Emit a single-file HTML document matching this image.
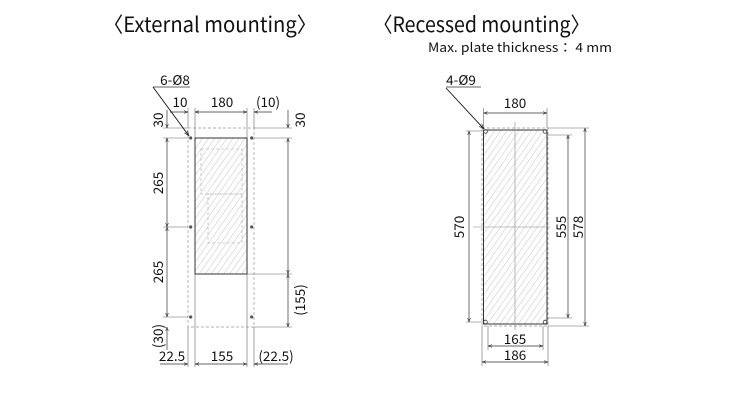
<!DOCTYPE html>
<html><head><meta charset="utf-8"><style>
html,body{margin:0;padding:0;background:#fff;}
svg{display:block;font-family:"Noto Sans CJK JP","Liberation Sans",sans-serif;}
</style></head><body>
<svg width="740" height="400" viewBox="0 0 740 400" xmlns="http://www.w3.org/2000/svg">
<defs>
<pattern id="h" width="5" height="5" patternUnits="userSpaceOnUse" patternTransform="rotate(35)">
<line x1="0" y1="0" x2="0" y2="5" stroke="#aaa" stroke-width="0.7"/>
</pattern>
<marker id="a" viewBox="0 0 6 6" refX="6" refY="3" markerWidth="6" markerHeight="6" orient="auto-start-reverse"><path d="M0,1 L6,3 L0,5" fill="none" stroke="#333" stroke-width="0.8"/></marker>
</defs>
<g fill="#111">
<text x="103" y="32" font-size="21" textLength="214" lengthAdjust="spacingAndGlyphs">〈External mounting〉</text>
<text x="373" y="32" font-size="21" textLength="217" lengthAdjust="spacingAndGlyphs">〈Recessed mounting〉</text>
<text x="428" y="52" font-size="12.5" textLength="184" lengthAdjust="spacingAndGlyphs">Max. plate thickness： 4 mm</text>
</g>

<!-- LEFT -->
<g stroke="#999" stroke-width="0.7" fill="none" stroke-dasharray="3,2">
<rect x="188" y="128" width="66" height="199"/>
</g>
<rect x="195" y="138" width="52" height="136" fill="url(#h)" stroke="#333" stroke-width="1"/>
<g stroke="#aaa" stroke-width="0.6" fill="none" stroke-dasharray="3,2">
<rect x="201" y="149" width="41" height="45"/>
<rect x="208" y="194" width="34" height="49"/>
</g>
<g fill="#555">
<circle cx="190.7" cy="138" r="1.6"/><circle cx="251.7" cy="138" r="1.6"/>
<circle cx="190.7" cy="227" r="1.6"/><circle cx="251.7" cy="227" r="1.6"/>
<circle cx="190.7" cy="317" r="1.6"/><circle cx="251.7" cy="317" r="1.6"/>
</g>
<g stroke="#666" stroke-width="0.6" fill="none">
<line x1="163" y1="138" x2="190" y2="138"/><line x1="163" y1="227" x2="188" y2="227"/><line x1="163" y1="317" x2="188" y2="317"/>
<line x1="163" y1="128" x2="188" y2="128"/>
<line x1="254" y1="128" x2="292" y2="128"/><line x1="254" y1="138" x2="292" y2="138"/>
<line x1="247" y1="274" x2="292" y2="274"/><line x1="254" y1="327" x2="292" y2="327"/>
<line x1="188" y1="108" x2="188" y2="128"/><line x1="195" y1="108" x2="195" y2="138"/>
<line x1="247" y1="108" x2="247" y2="138"/><line x1="254" y1="108" x2="254" y2="128"/>
<line x1="188" y1="327" x2="188" y2="367"/><line x1="195" y1="274" x2="195" y2="367"/>
<line x1="247" y1="274" x2="247" y2="367"/><line x1="254" y1="327" x2="254" y2="367"/>
</g>
<g stroke="#333" stroke-width="0.7" fill="none">
<line x1="167" y1="138" x2="167" y2="227" marker-start="url(#a)" marker-end="url(#a)"/>
<line x1="167" y1="227" x2="167" y2="317" marker-start="url(#a)" marker-end="url(#a)"/>
<line x1="167" y1="110" x2="167" y2="128" marker-end="url(#a)"/>
<line x1="167" y1="350" x2="167" y2="327" marker-end="url(#a)"/>
<line x1="288" y1="110" x2="288" y2="128" marker-end="url(#a)"/>
<line x1="288" y1="138" x2="288" y2="274" marker-start="url(#a)" marker-end="url(#a)"/>
<line x1="288" y1="274" x2="288" y2="327" marker-start="url(#a)" marker-end="url(#a)"/>
<line x1="170" y1="112" x2="188" y2="112" marker-end="url(#a)"/>
<line x1="195" y1="112" x2="247" y2="112" marker-start="url(#a)" marker-end="url(#a)"/>
<line x1="272" y1="112" x2="254" y2="112" marker-end="url(#a)"/>
<line x1="160" y1="364" x2="188" y2="364" marker-end="url(#a)"/>
<line x1="195" y1="364" x2="247" y2="364" marker-start="url(#a)" marker-end="url(#a)"/>
<line x1="288" y1="364" x2="254" y2="364" marker-end="url(#a)"/>
<line x1="153" y1="87" x2="190" y2="87"/>
<line x1="153" y1="87" x2="189" y2="136" stroke="#111" stroke-width="0.9" marker-end="url(#a)"/>
</g>
<g fill="#111" font-size="13.5" text-anchor="middle">
<text x="175" y="85">6-Ø8</text>
<text x="180" y="107">10</text>
<text x="222" y="107">180</text>
<text x="268" y="107">(10)</text>
<text x="172" y="361">22.5</text>
<text x="222" y="361">155</text>
<text x="276" y="361">(22.5)</text>
<text transform="translate(163,120) rotate(-90)">30</text>
<text transform="translate(163,183) rotate(-90)">265</text>
<text transform="translate(163,272) rotate(-90)">265</text>
<text transform="translate(163,336) rotate(-90)">(30)</text>
<text transform="translate(305,120) rotate(-90)">30</text>
<text transform="translate(305,300) rotate(-90)">(155)</text>
</g>

<!-- RIGHT -->
<rect x="482" y="128" width="66" height="198" fill="none" stroke="#999" stroke-width="0.7" stroke-dasharray="3,2"/>
<rect x="483.5" y="130" width="63.5" height="194" fill="url(#h)" stroke="#333" stroke-width="1"/>
<g stroke="#888" stroke-width="0.6">
<line x1="515" y1="122" x2="515" y2="330"/>
<line x1="473" y1="227" x2="550" y2="227"/>
</g>
<g fill="none" stroke="#444" stroke-width="0.8">
<circle cx="485.5" cy="131.5" r="1.8"/><circle cx="545" cy="131.5" r="1.8"/>
<circle cx="485.5" cy="322" r="1.8"/><circle cx="545" cy="322" r="1.8"/>
</g>
<g stroke="#666" stroke-width="0.6" fill="none">
<line x1="466" y1="131" x2="484" y2="131"/><line x1="466" y1="322" x2="484" y2="322"/>
<line x1="547" y1="135" x2="572" y2="135"/><line x1="547" y1="318" x2="572" y2="318"/>
<line x1="548" y1="128" x2="589" y2="128"/><line x1="548" y1="326" x2="589" y2="326"/>
<line x1="483.5" y1="108" x2="483.5" y2="128"/><line x1="547" y1="108" x2="547" y2="128"/>
<line x1="488" y1="326" x2="488" y2="350"/><line x1="543" y1="326" x2="543" y2="350"/>
<line x1="482" y1="326" x2="482" y2="366"/><line x1="548" y1="326" x2="548" y2="366"/>
</g>
<g stroke="#333" stroke-width="0.7" fill="none">
<line x1="469" y1="131" x2="469" y2="322" marker-start="url(#a)" marker-end="url(#a)"/>
<line x1="568" y1="135" x2="568" y2="318" marker-start="url(#a)" marker-end="url(#a)"/>
<line x1="585" y1="128" x2="585" y2="326" marker-start="url(#a)" marker-end="url(#a)"/>
<line x1="483.5" y1="113" x2="547" y2="113" marker-start="url(#a)" marker-end="url(#a)"/>
<line x1="488" y1="346" x2="543" y2="346" marker-start="url(#a)" marker-end="url(#a)"/>
<line x1="482" y1="362" x2="548" y2="362" marker-start="url(#a)" marker-end="url(#a)"/>
<line x1="446" y1="87" x2="481" y2="87"/>
<line x1="446" y1="88" x2="484" y2="129" stroke="#111" stroke-width="0.9" marker-end="url(#a)"/>
</g>
<g fill="#111" font-size="13.5" text-anchor="middle">
<text x="461" y="85">4-Ø9</text>
<text x="515" y="108">180</text>
<text x="515" y="344">165</text>
<text x="515" y="360">186</text>
<text transform="translate(464,227) rotate(-90)">570</text>
<text transform="translate(566,227) rotate(-90)">555</text>
<text transform="translate(583,227) rotate(-90)">578</text>
</g>
</svg>
</body></html>
